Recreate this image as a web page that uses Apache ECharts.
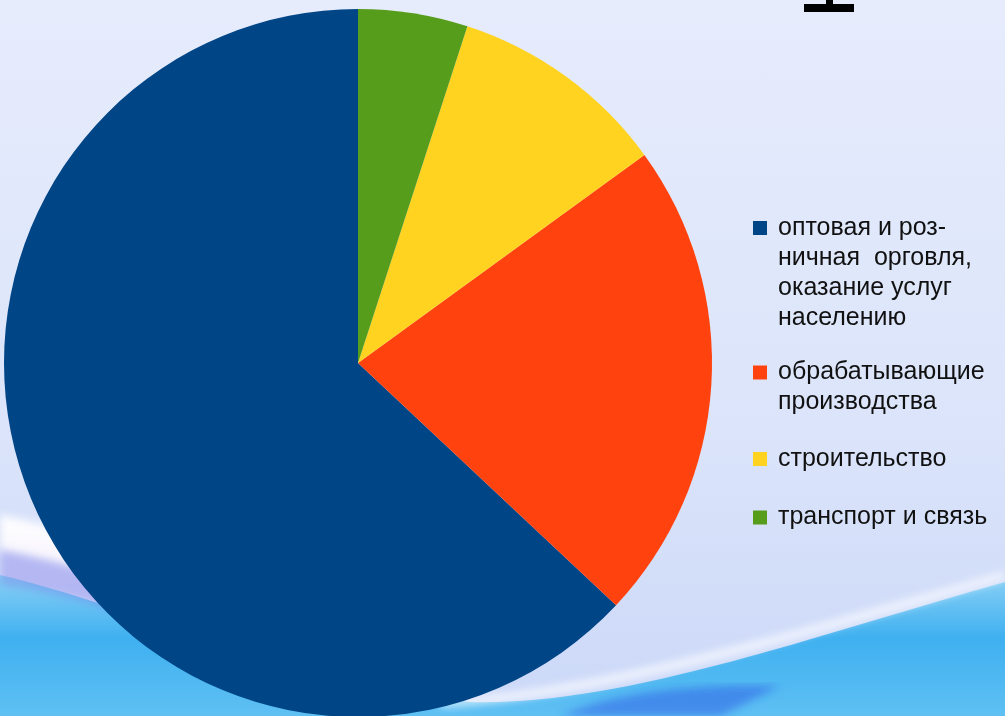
<!DOCTYPE html>
<html><head><meta charset="utf-8">
<script src="https://cdn.jsdelivr.net/npm/echarts@6/dist/echarts.min.js"></script>
<style>html,body{margin:0;padding:0;width:1005px;height:716px;overflow:hidden;background:#e2e9fb}
#bg{position:absolute;left:0;top:0;width:1005px;height:716px}
#c{position:absolute;left:0;top:0;width:1005px;height:716px}</style>
</head><body>
<svg id="bg" viewBox="0 0 1005 716" xmlns="http://www.w3.org/2000/svg">
  <defs>
    <linearGradient id="g0" x1="0" y1="0" x2="0" y2="1">
      <stop offset="0" stop-color="#e6ecfc"/><stop offset="0.6" stop-color="#dbe4fa"/><stop offset="1" stop-color="#cbd8f8"/>
    </linearGradient>
    <linearGradient id="g1" x1="0" y1="0" x2="0" y2="1">
      <stop offset="0" stop-color="#8ad0f5"/><stop offset="0.45" stop-color="#3fb0f0"/><stop offset="1" stop-color="#5fc0f3"/>
    </linearGradient>
    <linearGradient id="g2" x1="0" y1="0" x2="0" y2="1">
      <stop offset="0" stop-color="#ffffff"/><stop offset="0.5" stop-color="#f4f0fc"/><stop offset="1" stop-color="#a796e6"/>
    </linearGradient>
    <filter id="bl"><feGaussianBlur stdDeviation="4"/></filter>
  </defs>
  <rect x="0" y="0" width="1005" height="716" fill="url(#g0)"/>
  <path d="M0,575 C150,610 300,690 470,702 C620,706 800,640 1005,582 L1005,716 L0,716 Z" fill="url(#g1)"/>
  <path d="M0,515 C80,530 160,560 260,620 L260,650 C160,590 80,565 0,550 Z" fill="url(#g2)" filter="url(#bl)"/>
  <path d="M0,550 C80,565 160,590 260,650 L260,675 C160,620 80,595 0,585 Z" fill="rgba(120,110,230,0.35)" filter="url(#bl)"/>
  <path d="M440,700 C600,690 800,630 1005,572 L1005,579 C800,638 600,698 440,707 Z" fill="rgba(255,255,255,0.8)" filter="url(#bl)"/>
  <path d="M560,716 C620,690 700,684 780,686 L720,716 Z" fill="rgba(40,90,230,0.5)" filter="url(#bl)"/>
  <rect x="804" y="4" width="50" height="8" fill="#000"/>
  <rect x="826" y="0" width="7" height="5" fill="#000"/>
</svg>
<div id="c"></div>
<script>
var categories = ['оптовая и роз-\nничная  орговля,\nоказание услуг\nнаселению', 'обрабатывающие\nпроизводства', 'строительство', 'транспорт и связь'];
var values = [63, 22, 10, 5];
var colors = ['#004586', '#ff420e', '#ffd320', '#579d1c'];

var chart = echarts.init(document.getElementById('c'), null, {renderer: 'canvas'});

var L = 30;
var iconCenters = [228, 372.5, 459, 517.5];
var legends = categories.map(function (name, i) {
  var n = name.split('\n').length;
  var boxH = (2 * n - 1) * L;
  var top = iconCenters[i] - boxH / 2;
  var lead = new Array(n).join('\n');
  return {
    orient: 'vertical', left: 753, top: top, padding: 0,
    icon: 'rect', itemWidth: 14, itemHeight: 14, selectedMode: false,
    data: [name],
    formatter: function (nm) { return lead + nm; },
    textStyle: {fontFamily: 'Liberation Sans, Arial, sans-serif', fontSize: 25, color: '#111', lineHeight: L,
      padding: [0, 0, 0, 6]}
  };
});

chart.setOption({
  animation: false,
  backgroundColor: 'transparent',
  color: colors,
  legend: legends,
  series: [{
    type: 'pie',
    center: [358, 363],
    radius: 354,
    startAngle: 90,
    clockwise: false,
    label: {show: false},
    labelLine: {show: false},
    emphasis: {disabled: true},
    itemStyle: {borderWidth: 0},
    data: categories.map(function (c, i) { return {name: c, value: values[i]}; })
  }]
});
</script></body></html>
